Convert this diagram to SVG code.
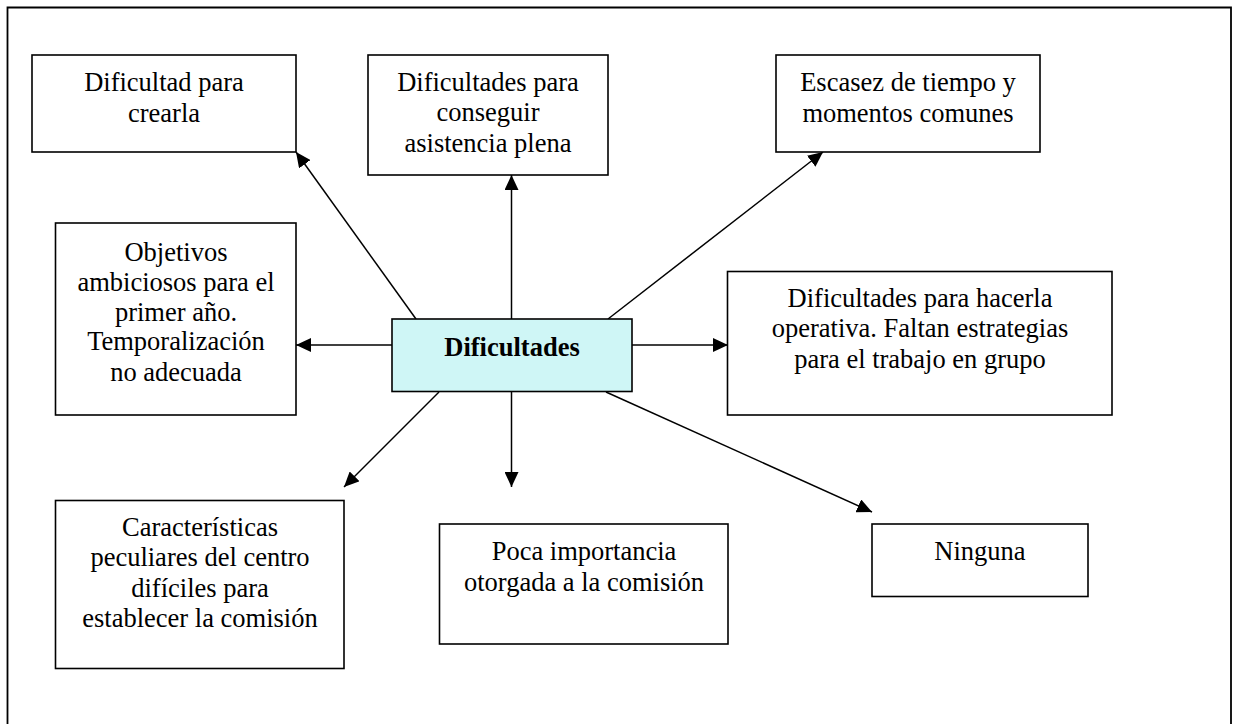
<svg xmlns="http://www.w3.org/2000/svg" width="1233" height="724" viewBox="0 0 1233 724">
<style>
.box{fill:#ffffff;stroke:#000000;stroke-width:1.6}
.center{fill:#cff6f6;stroke:#000000;stroke-width:1.6}
.t{font-family:"Liberation Serif","Times New Roman",serif;font-size:26.5px;fill:#000000;text-anchor:middle}
.b{font-weight:bold}
.c{stroke:#000000;stroke-width:1.5;fill:none;marker-end:url(#ah)}
</style>
<defs>
<marker id="ah" markerUnits="userSpaceOnUse" markerWidth="16" markerHeight="14" viewBox="0 0 16 14" refX="15" refY="7" orient="auto">
<path d="M0,0 L15,7 L0,14 Z" fill="#000000"/>
</marker>
</defs>
<rect width="1233" height="724" fill="#ffffff"/>
<path d="M7.5,730 L7.5,7.5 L1231,7.5 L1231,730" fill="none" stroke="#000000" stroke-width="1.8"/>
<g id="connectors">
<line class="c" x1="416" y1="319" x2="296" y2="152"/>
<line class="c" x1="511.5" y1="319" x2="511.5" y2="175"/>
<line class="c" x1="608" y1="319" x2="823" y2="152"/>
<line class="c" x1="392" y1="345" x2="296" y2="345"/>
<line class="c" x1="632" y1="345" x2="728" y2="345"/>
<line class="c" x1="439" y1="392" x2="344" y2="487"/>
<line class="c" x1="511.5" y1="392" x2="511.5" y2="487"/>
<line class="c" x1="606" y1="392" x2="872" y2="512"/>
</g>
<g id="n-center">
<rect class="center" x="392" y="319" width="240" height="72.5"/>
<text class="t b" x="512" y="355.5">Dificultades</text>
</g>
<g id="n1">
<rect class="box" x="32" y="55" width="264" height="97"/>
<text class="t" x="164" y="90.7">Dificultad para</text>
<text class="t" x="164" y="121.5">crearla</text>
</g>
<g id="n2">
<rect class="box" x="368" y="55" width="240" height="120"/>
<text class="t" x="488" y="90.7">Dificultades para</text>
<text class="t" x="488" y="121.2">conseguir</text>
<text class="t" x="488" y="151.7">asistencia plena</text>
</g>
<g id="n3">
<rect class="box" x="776" y="55" width="264" height="97"/>
<text class="t" x="908" y="90.7">Escasez de tiempo y</text>
<text class="t" x="908" y="121.5">momentos comunes</text>
</g>
<g id="n4">
<rect class="box" x="55.5" y="223" width="240.5" height="192"/>
<text class="t" x="176" y="261">Objetivos</text>
<text class="t" x="176" y="291">ambiciosos para el</text>
<text class="t" x="176" y="320.5">primer año.</text>
<text class="t" x="176" y="350">Temporalización</text>
<text class="t" x="176" y="380.5">no adecuada</text>
</g>
<g id="n5">
<rect class="box" x="727.5" y="271.5" width="384.5" height="143.5"/>
<text class="t" x="920" y="306.7">Dificultades para hacerla</text>
<text class="t" x="920" y="337.2">operativa. Faltan estrategias</text>
<text class="t" x="920" y="367.5">para el trabajo en grupo</text>
</g>
<g id="n6">
<rect class="box" x="55.5" y="500.5" width="288.5" height="168"/>
<text class="t" x="200" y="535.5">Características</text>
<text class="t" x="200" y="566">peculiares del centro</text>
<text class="t" x="200" y="596.5">difíciles para</text>
<text class="t" x="200" y="627">establecer la comisión</text>
</g>
<g id="n7">
<rect class="box" x="439.5" y="524" width="288.5" height="120"/>
<text class="t" x="584" y="560">Poca importancia</text>
<text class="t" x="584" y="590.5">otorgada a la comisión</text>
</g>
<g id="n8">
<rect class="box" x="872" y="524" width="216" height="72.5"/>
<text class="t" x="980" y="560">Ninguna</text>
</g>
</svg>
